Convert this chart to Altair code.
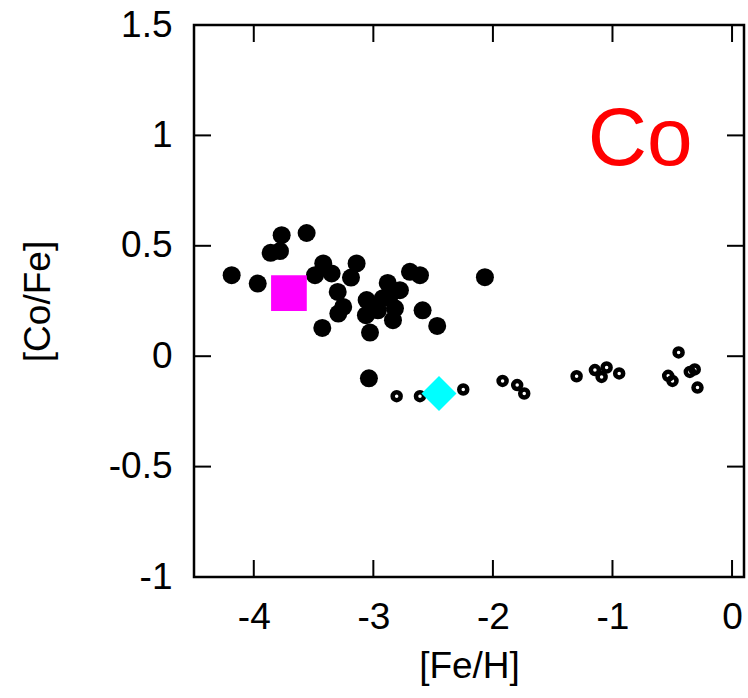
import altair as alt
import pandas as pd

# Filled black circles
filled_x = [-4.185, -3.967, -3.767, -3.781, -3.859, -3.558, -3.488, -3.419, -3.349, -3.140,
            -3.187, -3.298, -3.252, -3.293, -3.427, -3.056, -3.062, -3.028, -3.037, -2.880,
            -2.778, -2.861, -2.962, -2.819, -2.836, -2.694, -2.610, -2.588, -2.466, -2.067, -2.920]
filled_y = [0.367, 0.329, 0.548, 0.476, 0.468, 0.558, 0.367, 0.420, 0.375, 0.420,
            0.356, 0.291, 0.223, 0.193, 0.128, 0.254, 0.186, 0.107, -0.100, 0.332,
            0.299, 0.276, 0.208, 0.217, 0.163, 0.382, 0.367, 0.208, 0.137, 0.358, 0.263]

# Small open rings
ring_x = [-2.805, -2.610, -2.248, -1.919, -1.797, -1.738, -1.300, -1.147, -1.091, -1.049,
          -0.944, -0.447, -0.534, -0.498, -0.353, -0.312, -0.289]
ring_y = [-0.181, -0.181, -0.151, -0.112, -0.131, -0.169, -0.091, -0.063, -0.094, -0.051,
          -0.078, 0.017, -0.089, -0.112, -0.071, -0.060, -0.142]

square_x = [-3.706]
square_y = [0.286]
diamond_x = [-2.451]
diamond_y = [-0.169]

label_text = ["Co"]
label_x = [-1.206]
label_y = [0.865]

x_ticks = [-4, -3, -2, -1, 0]
y_ticks = [-0.5, 0, 0.5, 1]
y_labels = [-1, -0.5, 0, 0.5, 1, 1.5]

W, H = 550, 552
FONT = "Liberation Sans"
FS = 37

xs = alt.Scale(domain=[-4.5, 0.1], nice=False, zero=False)
ys = alt.Scale(domain=[-1, 1.5], nice=False, zero=False)

x_axis = alt.Axis(values=x_ticks, ticks=False, domain=False, grid=False,
                  labelExpr="datum.value + ''", labelFontSize=FS, labelFont=FONT,
                  labelColor="black", labelPadding=22, title="[Fe/H]",
                  titleFont=FONT, titleFontSize=FS, titleFontWeight="normal",
                  titleColor="black", titlePadding=13)
y_axis = alt.Axis(values=y_labels, ticks=False, domain=False, grid=False,
                  labelExpr="datum.value + ''", labelFontSize=FS, labelFont=FONT,
                  labelColor="black", labelPadding=22, title="[Co/Fe]",
                  titleFont=FONT, titleFontSize=FS, titleFontWeight="normal",
                  titleColor="black", titlePadding=51)

df_f = pd.DataFrame({"x": filled_x, "y": filled_y})
df_r = pd.DataFrame({"x": ring_x, "y": ring_y})
df_s = pd.DataFrame({"x": square_x, "y": square_y})
df_d = pd.DataFrame({"x": diamond_x, "y": diamond_y})
df_t = pd.DataFrame({"x": label_x, "y": label_y, "t": label_text})
df_xt = pd.DataFrame({"v": x_ticks})
df_yt = pd.DataFrame({"v": y_ticks})

base_x = alt.X("x:Q", scale=xs, axis=x_axis)
base_y = alt.Y("y:Q", scale=ys, axis=y_axis)

filled = alt.Chart(df_f).mark_circle(size=324, color="black", opacity=1).encode(x=base_x, y=base_y)
rings = alt.Chart(df_r).mark_point(size=64, filled=False, stroke="black", strokeWidth=4.5,
                                   opacity=1).encode(x=base_x, y=base_y)
square = alt.Chart(df_s).mark_square(size=1275, color="#ff00ff", opacity=1).encode(x=base_x, y=base_y)
diamond = alt.Chart(df_d).mark_point(shape="diamond", size=1225, filled=True, color="#00ffff",
                                     opacity=1).encode(x=base_x, y=base_y)
text = alt.Chart(df_t).mark_text(font=FONT, fontSize=82, color="#ff0000", align="left",
                                 baseline="alphabetic").encode(x=base_x, y=base_y, text="t:N")

TL = 17
bot_ticks = alt.Chart(df_xt).mark_rule(color="black", strokeWidth=2).encode(
    x=alt.X("v:Q", scale=xs), y=alt.value(H), y2=alt.value(H - TL))
top_ticks = alt.Chart(df_xt).mark_rule(color="black", strokeWidth=2).encode(
    x=alt.X("v:Q", scale=xs), y=alt.value(0), y2=alt.value(TL))
left_ticks = alt.Chart(df_yt).mark_rule(color="black", strokeWidth=2).encode(
    y=alt.Y("v:Q", scale=ys), x=alt.value(0), x2=alt.value(TL))
right_ticks = alt.Chart(df_yt).mark_rule(color="black", strokeWidth=2).encode(
    y=alt.Y("v:Q", scale=ys), x=alt.value(W), x2=alt.value(W - TL))

chart = alt.layer(filled, rings, square, diamond, text,
                  bot_ticks, top_ticks, left_ticks, right_ticks).properties(
    width=W, height=H,
    autosize=alt.AutoSizeParams(type="none"),
    padding={"left": 194, "top": 25, "right": 4, "bottom": 121},
    background="white",
).configure_view(stroke="black", strokeWidth=2.5)

chart.save("out.html", embed_options={"renderer": "svg", "actions": False})
